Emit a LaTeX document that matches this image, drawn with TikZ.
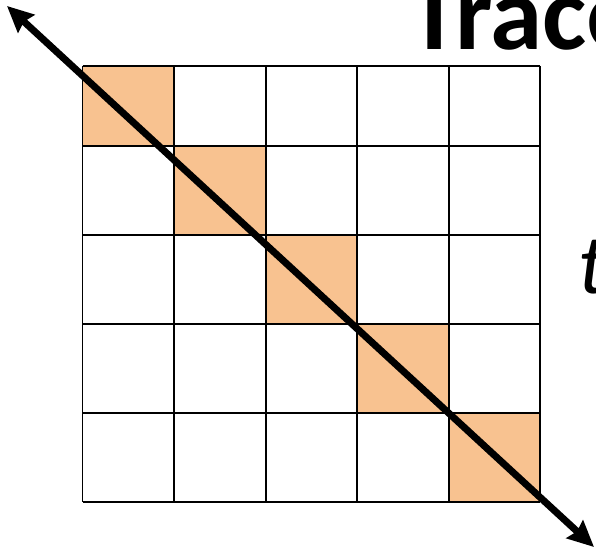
\documentclass[tikz,border=0pt]{standalone}
\usepackage{fontspec}
\setmainfont{Carlito}
\usetikzlibrary{arrows.meta}
\definecolor{cellorange}{RGB}{248,194,144}
\begin{document}
\begin{tikzpicture}[x=0.02cm, y=-0.02cm,
    gridline/.style={draw, line width=0.04cm},
    label/.style={inner sep=0pt, anchor=base west},
    diag/.style={{Stealth[length=0.52cm,width=0.48cm,inset=0.06cm]}-{Stealth[length=0.52cm,width=0.48cm,inset=0.06cm]},
        line width=0.14cm}]
  \useasboundingbox (0,0) rectangle (596,550);
  % shaded cells on the diagonal
  \foreach \c/\top/\bot in {0/66/146, 1/146/235, 2/235/324, 3/324/413, 4/413/502}
    \fill[cellorange] (82.5+91.5*\c,\top) rectangle (174+91.5*\c,\bot);
  % grid
  \foreach \x in {82.5,174,265.5,357,448.5,540}
    \draw[gridline] (\x,66) -- (\x,502);
  \foreach \y in {66,146,235,324,413,502}
    \draw[gridline] (82.5,\y) -- (540,\y);
  \node[label, font=\bfseries\fontsize{60}{60}\selectfont] (title) at (408,50) {Trace};
  \node[label, font=\itshape\fontsize{48}{48}\selectfont] (tvar) at (578,294) {t};
  \coordinate (start) at (7,6);
  \coordinate (end) at (594,547);
  \draw[diag] (start) -- (end);
\end{tikzpicture}
\end{document}
